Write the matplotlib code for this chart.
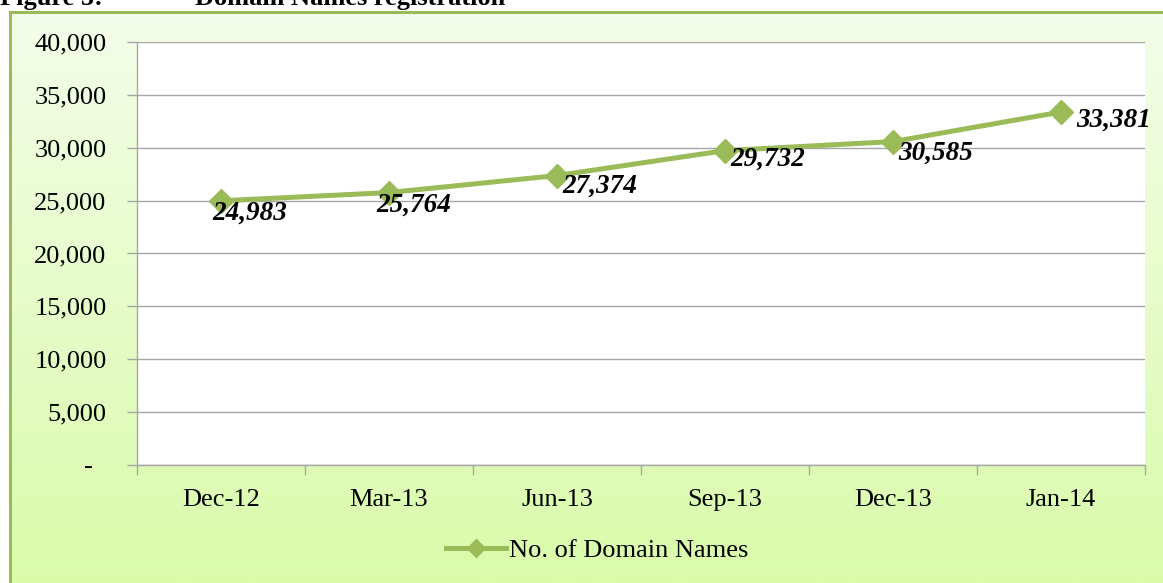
import numpy as np
import matplotlib
matplotlib.use("Agg")
import matplotlib.pyplot as plt
from matplotlib.colors import LinearSegmentedColormap
from matplotlib.ticker import FuncFormatter, MultipleLocator
from matplotlib.transforms import ScaledTranslation

categories = ["Dec-12", "Mar-13", "Jun-13", "Sep-13", "Dec-13", "Jan-14"]
domain_names = [24983, 25764, 27374, 29732, 30585, 33381]
series_label = "No. of Domain Names"
caption_num = "Figure 5:"
caption_txt = "Domain Names registration"

# label offsets in points (style only)
label_dx = [-6, -9, 4, 4, 4, 11]
label_dy = [-9, -9, -8, -6, -8, -6]

W, H, DPI = 1163, 583, 100
fig = plt.figure(figsize=(W / DPI, H / DPI), dpi=DPI)
fig.patch.set_facecolor("white")

serif = ["Liberation Serif", "DejaVu Serif"]
green = "#9bbb59"

# background frame with gradient
bx0, by_top = 10 / W, 1 - 12 / H
bg = fig.add_axes([bx0, 0, 1 - bx0, by_top])
grad = np.linspace(0, 1, 256).reshape(-1, 1)
cmap = LinearSegmentedColormap.from_list("g", ["#f4fde9", "#d9fbaa"])
bg.imshow(grad, aspect="auto", cmap=cmap, extent=[0, 1, 0, 1], origin="upper")
bg.set_xlim(0, 1)
bg.set_ylim(0, 1)
bg.set_xticks([])
bg.set_yticks([])
for s in ["right", "bottom"]:
    bg.spines[s].set_visible(False)
for s in ["left", "top"]:
    bg.spines[s].set_color(green)
    bg.spines[s].set_linewidth(2.2)
bg.set_zorder(0)

# caption (cut off at the top, as in the reference)
fig.text(0 / W, 1 - 5 / H, caption_num, fontfamily=serif, fontweight="bold",
         fontsize=19, va="baseline", ha="left")
fig.text(195 / W, 1 - 5 / H, caption_txt, fontfamily=serif, fontweight="bold",
         fontsize=19, va="baseline", ha="left")

# main axes
L, R, T, B = 137, 1145, 42, 465
ax = fig.add_axes([L / W, 1 - B / H, (R - L) / W, (B - T) / H])
ax.set_zorder(1)
ax.set_facecolor("white")
x = np.arange(len(categories))
ax.plot(x, domain_names, color=green, lw=3.6, marker="D", markersize=12.5,
        markerfacecolor=green, markeredgecolor=green, label=series_label,
        zorder=3, solid_joinstyle="round")
ax.set_xlim(-0.5, len(categories) - 0.5)
ax.set_ylim(0, 40000)
ax.yaxis.set_major_locator(MultipleLocator(5000))
ax.yaxis.set_major_formatter(FuncFormatter(lambda v, p: "-" if v == 0 else f"{int(v):,}"))
ax.grid(axis="y", color="#a6a6a6", lw=1.0)
ax.set_axisbelow(True)

ax.set_xticks(x)
ax.set_xticklabels(categories)
ax.set_xticks(np.arange(-0.5, len(categories)), minor=True)
ax.tick_params(axis="x", which="major", length=0, pad=17)
ax.tick_params(axis="x", which="minor", length=7, color="#a6a6a6", width=1)
ax.tick_params(axis="y", length=7, color="#a6a6a6", width=1, pad=15)
for lab in ax.get_xticklabels() + ax.get_yticklabels():
    lab.set_fontfamily(serif)
    lab.set_fontsize(19)
    lab.set_color("black")

# shift the "-" zero label left, like the accounting format
fig.canvas.draw()
for tick in ax.yaxis.get_major_ticks():
    if tick.get_loc() == 0:
        lab = tick.label1
        lab.set_transform(lab.get_transform() + ScaledTranslation(-10 / 72, 0, fig.dpi_scale_trans))

for s in ["top", "right"]:
    ax.spines[s].set_visible(False)
for s in ["left", "bottom"]:
    ax.spines[s].set_color("#a6a6a6")
    ax.spines[s].set_linewidth(1)

for i, v in enumerate(domain_names):
    ax.annotate(f"{v:,}", (x[i], v), xytext=(label_dx[i], label_dy[i]),
                textcoords="offset points", ha="left", va="center",
                fontfamily=serif, fontweight="bold", fontstyle="italic",
                fontsize=19.5, color="black", zorder=4)

leg = fig.legend(loc="center", bbox_to_anchor=(597 / W, 1 - 550 / H),
                 frameon=False, prop={"family": serif, "size": 19},
                 handlelength=2.3, handletextpad=0.1, markerscale=0.7)

fig.savefig("out.png", dpi=DPI)
